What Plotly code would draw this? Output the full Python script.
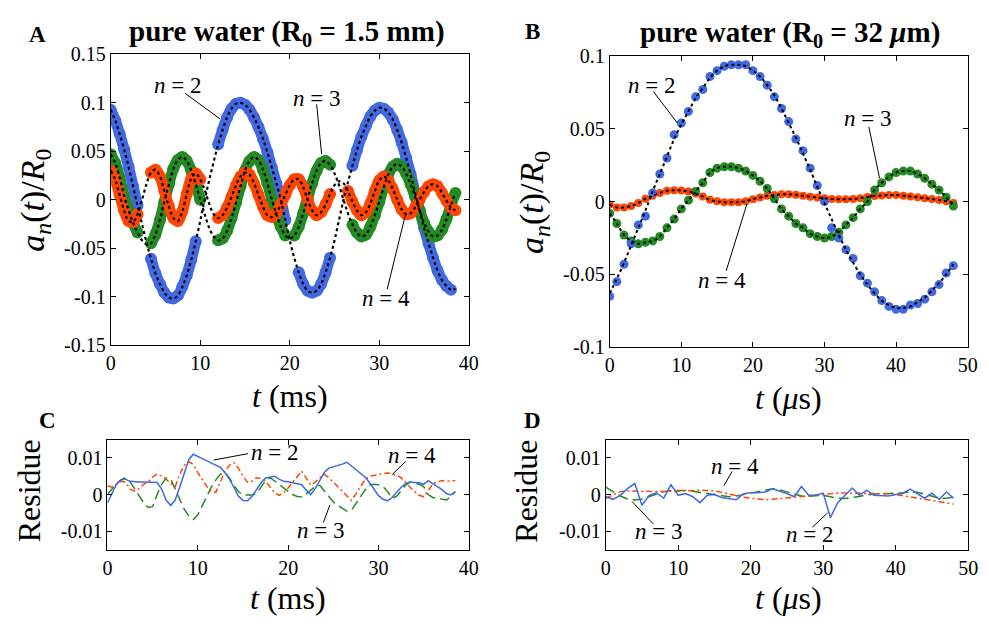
import plotly.graph_objects as go

# ---------------- data ----------------
T_A = [0, 0.5, 1, 1.5, 2, 2.5, 3, 3.5, 4, 4.5, 5, 5.5, 6, 6.5, 7, 7.5, 8, 8.5, 9, 9.5,
       10, 10.5, 11, 11.5, 12, 12.5, 13, 13.5, 14, 14.5, 15, 15.5, 16, 16.5, 17, 17.5, 18, 18.5, 19, 19.5,
       20, 20.5, 21, 21.5, 22, 22.5, 23, 23.5, 24, 24.5, 25, 25.5, 26, 26.5, 27, 27.5, 28, 28.5, 29, 29.5,
       30, 30.5, 31, 31.5, 32, 32.5, 33, 33.5, 34, 34.5, 35, 35.5, 36, 36.5, 37, 37.5, 38, 38.5]

A_N2 = [0.093, 0.082, 0.068, 0.052, 0.034, 0.014, -0.006, -0.025, -0.044, -0.061,
        -0.076, -0.087, -0.096, -0.101, -0.102, -0.099, -0.090, -0.078, -0.062, -0.043,
        -0.022, 0.000, 0.020, 0.039, 0.057, 0.072, 0.085, 0.094, 0.099, 0.100,
        0.098, 0.093, 0.085, 0.075, 0.063, 0.049, 0.033, 0.017, 0.000, -0.021,
        -0.042, -0.060, -0.075, -0.087, -0.094, -0.096, -0.094, -0.087, -0.075, -0.060,
        -0.042, -0.021, 0.000, 0.018, 0.035, 0.051, 0.065, 0.076, 0.086, 0.092,
        0.095, 0.094, 0.090, 0.083, 0.072, 0.059, 0.043, 0.026, 0.007, -0.011,
        -0.029, -0.045, -0.060, -0.073, -0.083, -0.089, -0.093, -0.092]
A_N3 = [0.047, 0.038, 0.023, 0.004, -0.011, -0.024, -0.034, -0.042, -0.046, -0.045,
        -0.036, -0.021, -0.002, 0.016, 0.032, 0.041, 0.044, 0.040, 0.030, 0.016,
        0.000, -0.015, -0.029, -0.038, -0.042, -0.040, -0.032, -0.019, -0.003, 0.014,
        0.030, 0.040, 0.044, 0.041, 0.031, 0.017, 0.000, -0.015, -0.028, -0.037,
        -0.040, -0.037, -0.028, -0.014, 0.002, 0.017, 0.030, 0.038, 0.040, 0.036,
        0.027, 0.015, 0.000, -0.014, -0.026, -0.034, -0.038, -0.036, -0.028, -0.016,
        -0.002, 0.013, 0.026, 0.034, 0.037, 0.034, 0.027, 0.016, 0.003, -0.011,
        -0.024, -0.033, -0.038, -0.037, -0.031, -0.020, -0.006, 0.007]
A_N4 = [0.030, 0.021, 0.005, -0.011, -0.022, -0.023, -0.015, 0.000, 0.016, 0.028,
        0.031, 0.024, 0.009, -0.007, -0.019, -0.022, -0.012, 0.006, 0.022, 0.027,
        0.021, 0.010, -0.004, -0.015, -0.019, -0.016, -0.008, 0.003, 0.015, 0.024,
        0.028, 0.026, 0.017, 0.005, -0.007, -0.016, -0.018, -0.014, -0.005, 0.005,
        0.015, 0.021, 0.021, 0.013, 0.000, -0.011, -0.016, -0.013, -0.005, 0.006,
        0.015, 0.019, 0.017, 0.009, -0.002, -0.011, -0.016, -0.013, -0.004, 0.009,
        0.020, 0.024, 0.020, 0.011, 0.000, -0.010, -0.015, -0.014, -0.008, 0.000,
        0.008, 0.014, 0.016, 0.014, 0.007, -0.001, -0.008, -0.011]
# time windows (ms) in which the measured points of panel A are present
A_SEG_N2 = [(0, 3.0), (4.5, 9.5), (12, 19.5), (21, 24.5), (27, 38)]
A_SEG_N3 = [(0, 3.0), (4.5, 10), (12, 19.5), (20.5, 24.5), (27, 38.5)]
A_SEG_N4 = [(0, 3.0), (4.5, 10), (12, 19.5), (20, 24.5), (26.5, 38.5)]

T_B = list(range(49))
B_N2 = [-0.065, -0.055, -0.043, -0.029, -0.016, -0.010, 0.006, 0.019, 0.030, 0.046,
        0.054, 0.062, 0.072, 0.077, 0.086, 0.090, 0.093, 0.094, 0.094, 0.094,
        0.090, 0.086, 0.080, 0.072, 0.064, 0.055, 0.043, 0.035, 0.023, 0.011,
        0.000, -0.018, -0.025, -0.033, -0.039, -0.051, -0.056, -0.062, -0.068, -0.072,
        -0.074, -0.074, -0.071, -0.070, -0.067, -0.062, -0.057, -0.049, -0.044]
B_N2_FIT = [-0.063, -0.053, -0.042, -0.030, -0.018, -0.006, 0.007, 0.019, 0.031, 0.043,
            0.053, 0.062, 0.071, 0.078, 0.085, 0.090, 0.093, 0.094, 0.094, 0.093,
            0.090, 0.086, 0.080, 0.073, 0.064, 0.054, 0.044, 0.033, 0.022, 0.010,
            -0.001, -0.012, -0.023, -0.033, -0.042, -0.050, -0.057, -0.063, -0.068, -0.071,
            -0.073, -0.073, -0.072, -0.069, -0.066, -0.061, -0.056, -0.050, -0.043]
B_N3 = [-0.008, -0.015, -0.023, -0.027, -0.029, -0.028, -0.027, -0.024, -0.018, -0.012,
        -0.005, 0.001, 0.007, 0.013, 0.020, 0.023, 0.024, 0.024, 0.023, 0.021,
        0.018, 0.014, 0.009, 0.002, -0.005, -0.010, -0.015, -0.018, -0.022, -0.024,
        -0.025, -0.024, -0.021, -0.016, -0.011, -0.005, 0.000, 0.008, 0.013, 0.017,
        0.020, 0.021, 0.021, 0.019, 0.016, 0.012, 0.008, 0.003, -0.003]
B_N4 = [-0.002, -0.004, -0.004, -0.003, -0.001, 0.002, 0.004, 0.006, 0.0075, 0.0078,
        0.0077, 0.007, 0.0055, 0.0035, 0.0012, 0.0002, -0.0005, -0.0005, -0.0004, 0.0003,
        0.0017, 0.0028, 0.004, 0.0046, 0.005, 0.005, 0.0047, 0.004, 0.0034, 0.0028,
        0.0024, 0.0018, 0.0017, 0.0017, 0.0018, 0.0024, 0.0032, 0.0039, 0.0042, 0.0045,
        0.0045, 0.004, 0.0036, 0.003, 0.0024, 0.0018, 0.0011, 0.0003, -0.001]

# residues, in units of 1e-3
T_C = T_A
C_N2 = [-2.3, 0.5, 2.8, 4.0, 4.2, 3.6, 3.4, 3.4, 3.4, 3.4,
        3.2, 3.3, 1.5, -1.5, -3.0, -1.5, 2.0, 6.0, 9.5, 11.0,
        10.5, 9.8, 9.2, 8.6, 8.1, 7.4, 6.0, 4.2, 2.0, -0.5,
        -1.6, -1.7, -0.5, 1.5, 3.2, 4.5, 4.8, 5.0, 4.2, 3.6,
        3.5, 3.3, 3.0, 2.7, 1.2, 0.0, 1.6, 3.8, 6.0, 7.2,
        7.5, 7.9, 8.3, 8.8, 7.8, 6.7, 5.6, 4.8, 3.3, 1.5,
        -0.3, -1.3, -1.7, -0.8, 0.5, 2.0, 3.0, 3.4, 3.3, 3.2,
        2.8, 3.8, 3.0, 2.2, 1.4, 0.3, -0.1, 0.8]
C_N3 = [0.0, 1.5, 3.0, 4.0, 4.6, 3.5, 1.5, -0.5, -2.2, -3.5,
        -3.3, 0.0, 2.8, 4.5, 4.2, 1.5, -1.5, -4.0, -5.8, -6.8,
        -5.5, -3.0, -0.5, 2.0, 4.0, 5.5, 6.0, 4.5, 2.5, 0.8,
        -0.1, -0.2, -0.1, 0.3, 2.0, 3.8, 4.6, 3.8, 2.8, 1.8,
        0.8, 0.0, -0.5, -0.6, 0.2, 1.2, 2.2, 2.5, 1.0, -0.8,
        -2.0, -3.0, -3.8, -4.5, -4.3, -2.5, -0.5, 1.2, 2.6, 2.8,
        2.7, 2.2, 0.8, -1.0, -0.5, 1.2, 2.6, 3.4, 3.2, 2.8,
        2.2, 0.0, -0.8, -1.0, -1.3, -1.5, -0.6, 0.8]
C_N4 = [2.4, 2.0, 2.8, 3.6, 3.4, 1.5, 0.9, 1.6, 2.8, 3.4,
        4.8, 5.6, 5.0, 4.2, 3.0, 2.2, 5.5, 8.0, 9.0, 8.2,
        6.0, 4.0, 2.2, 0.8, 0.6, 3.5, 6.3, 8.0, 8.7, 7.2,
        5.0, 3.4, 3.6, 4.6, 4.4, 3.6, 2.0, 0.5, -0.2, 0.5,
        1.8, 3.3, 5.0, 6.4, 4.5, 2.6, 3.4, 4.6, 5.5, 4.6,
        3.4, 2.2, 1.0, -0.2, -1.6, 0.2, 2.2, 4.0, 5.0, 5.3,
        5.5, 5.7, 5.9, 5.6, 5.3, 4.6, 3.2, 2.0, 0.8, -0.2,
        -0.6, 1.0, 3.0, 3.4, 3.8, 3.6, 3.8, 3.8]

T_D = T_B
D_N2 = [-0.6, -1.3, -0.2, 1.6, 3.0, -2.9, -0.2, 0.5, -1.0, 2.7,
        -0.2, 0.3, -0.6, -2.2, -0.2, 0.0, -0.8, -1.0, -1.4, 0.2,
        0.5, 0.5, 0.7, 1.6, 1.0, 0.3, -0.6, 2.2, -0.2, -0.2,
        0.4, -6.3, -2.2, -0.2, 1.8, -0.2, 1.2, -0.2, -0.2, -0.4,
        0.0, 0.3, 1.5, 0.3, -1.0, 0.4, -1.3, 0.7, -1.0]
D_N3 = [2.0, 0.8, -0.4, -1.2, -1.5, -1.2, -0.5, 0.3, 0.8, 1.1,
        1.2, 1.1, 0.9, 0.6, 0.2, -0.2, -0.5, -0.6, -0.4, 0.0,
        0.5, 1.0, 1.4, 1.6, 1.3, 0.8, 0.1, -0.4, -0.5, -0.3,
        -0.2, -0.6, -1.0, -1.1, -0.9, -0.5, -0.1, 0.2, 0.3, 0.3,
        0.3, 0.5, 0.7, 0.6, 0.1, -0.5, -1.0, -1.0, -0.7]
D_N4 = [-1.0, 0.0, 0.8, 1.0, 0.9, 0.8, 0.8, 0.8, 0.8, 0.9,
        1.0, 1.1, 1.3, 1.2, 1.1, 1.0, 0.6, 0.1, -0.3, -0.7,
        -1.0, -1.3, -1.4, -1.3, -1.1, -0.9, -0.7, -0.5, -0.3, -0.1,
        0.1, 0.3, 0.4, 0.4, 0.4, 0.4, 0.4, 0.3, 0.3, 0.2,
        0.0, -0.3, -0.6, -0.9, -1.2, -1.5, -1.9, -2.3, -2.6]

A_YTICKS = [-0.15, -0.1, -0.05, 0, 0.05, 0.1, 0.15]
A_YTEXT = ["-0.15", "-0.1", "-0.05", "0", "0.05", "0.1", "0.15"]
B_YTICKS = [-0.1, -0.05, 0, 0.05, 0.1]
B_YTEXT = ["-0.1", "-0.05", "0", "0.05", "0.1"]
R_YTICKS = [-10, 0, 10]
R_YTEXT = ["-0.01", "0", "0.01"]

# ---------------- styling ----------------
BLUE = "#4169E1"
GREEN = "#228B22"
ORANGE = "#FF4500"
FONT = "Liberation Serif, Times New Roman, serif"
W, H = 989, 632

fig = go.Figure()


def in_segs(t, segs):
    return any(a <= t <= b for a, b in segs)


# Panel A: measured bands
for fit, segs, col in [(A_N2, A_SEG_N2, BLUE), (A_N3, A_SEG_N3, GREEN), (A_N4, A_SEG_N4, ORANGE)]:
    ys = [v if in_segs(t, segs) else None for t, v in zip(T_A, fit)]
    fig.add_trace(go.Scatter(x=T_A, y=ys, mode="lines+markers", connectgaps=False,
                             line=dict(color=col, width=11, shape="spline"),
                             marker=dict(color=col, size=12),
                             xaxis="x", yaxis="y", hoverinfo="skip"))
for fit in [A_N2, A_N3, A_N4]:
    fig.add_trace(go.Scatter(x=T_A, y=fit, mode="lines",
                             line=dict(color="black", width=2.2, dash="dot", shape="spline"),
                             xaxis="x", yaxis="y", hoverinfo="skip"))

# Panel B
for ys, col, sz in [(B_N4, ORANGE, 8), (B_N3, GREEN, 9), (B_N2, BLUE, 9)]:
    fig.add_trace(go.Scatter(x=T_B, y=ys, mode="markers", marker=dict(color=col, size=sz),
                             xaxis="x2", yaxis="y2", hoverinfo="skip"))
for ys in [B_N2_FIT, B_N3, B_N4]:
    fig.add_trace(go.Scatter(x=T_B, y=ys, mode="lines",
                             line=dict(color="black", width=2, dash="dot", shape="spline"),
                             xaxis="x2", yaxis="y2", hoverinfo="skip"))

# Panels C and D
SOLID, DASH, DASHDOT = "solid", "10px,5px", "6px,3px,2px,3px"
for ys, col, dash in [(C_N3, GREEN, DASH), (C_N4, ORANGE, DASHDOT), (C_N2, BLUE, SOLID)]:
    fig.add_trace(go.Scatter(x=T_C, y=ys, mode="lines", line=dict(color=col, width=1.5, dash=dash),
                             xaxis="x3", yaxis="y3", hoverinfo="skip"))
for ys, col, dash in [(D_N3, GREEN, DASH), (D_N4, ORANGE, DASHDOT), (D_N2, BLUE, SOLID)]:
    fig.add_trace(go.Scatter(x=T_D, y=ys, mode="lines", line=dict(color=col, width=1.5, dash=dash),
                             xaxis="x4", yaxis="y4", hoverinfo="skip"))


def px_x(p):
    return p / W


def px_y(p):
    return 1 - p / H


def axis(dom, rng, anchor, tickvals=None, ticktext=None, dtick=None):
    d = dict(domain=dom, range=rng, anchor=anchor, showline=True, linecolor="black", linewidth=1,
             mirror="ticks", ticks="inside", ticklen=5, tickcolor="black", showgrid=False,
             zeroline=False, tickfont=dict(family=FONT, size=20, color="black"))
    if tickvals is not None:
        d.update(tickmode="array", tickvals=tickvals, ticktext=ticktext)
    if dtick is not None:
        d.update(tick0=0, dtick=dtick)
    return d


layout = dict(
    width=W, height=H, margin=dict(l=0, r=0, t=0, b=0),
    paper_bgcolor="white", plot_bgcolor="white", showlegend=False,
    font=dict(family=FONT, color="black"),
    xaxis=axis([px_x(107.3), px_x(471)], [0, 40], "y", dtick=10),
    yaxis=axis([px_y(346), px_y(45)], [-0.15, 0.15], "x", A_YTICKS, A_YTEXT),
    xaxis2=axis([px_x(614), px_x(977.5)], [0, 50], "y2", dtick=10),
    yaxis2=axis([px_y(348.3), px_y(46.7)], [-0.1, 0.1], "x2", B_YTICKS, B_YTEXT),
    xaxis3=axis([px_x(104), px_x(471)], [0, 40], "y3", dtick=10),
    yaxis3=axis([px_y(558), px_y(444)], [-15, 15], "x3", R_YTICKS, R_YTEXT),
    xaxis4=axis([px_x(610), px_x(978)], [0, 50], "y4", dtick=10),
    yaxis4=axis([px_y(558), px_y(444)], [-15, 15], "x4", R_YTICKS, R_YTEXT),
)
fig.update_layout(**layout)

ann = []


def paper_text(x, y, text, size, angle=0):
    ann.append(dict(x=px_x(x), y=px_y(y), xref="paper", yref="paper", text=text, showarrow=False,
                    textangle=angle, xanchor="center", yanchor="middle",
                    font=dict(family=FONT, size=size, color="black")))


paper_text(33, 24, "<b>A</b>", 23)
paper_text(536, 21, "<b>B</b>", 23)
paper_text(43, 424, "<b>C</b>", 23)
paper_text(536, 424, "<b>D</b>", 23)
paper_text(286, 23, "<b>pure water (R<sub>0</sub> = 1.5 mm)</b>", 29)
paper_text(797, 24, "<b>pure water (R<sub>0</sub> = 32 <i>μ</i>m)</b>", 29)
ylab = "<i>a<sub>n</sub></i>(<i>t</i>)/<i>R</i><sub>0</sub>"
paper_text(31, 196, ylab, 34, -90)
paper_text(537, 198, ylab, 34, -90)
paper_text(24, 497, "Residue", 32, -90)
paper_text(529, 497, "Residue", 32, -90)
paper_text(289, 399, "<i>t</i> (ms)", 32)
paper_text(796, 401, "<i>t</i> (<i>μ</i>s)", 32)
paper_text(287, 608, "<i>t</i> (ms)", 32)
paper_text(796, 608, "<i>t</i> (<i>μ</i>s)", 32)

labels = [
    # (xref, yref, text pos, line start, line end, text)
    ("x", "y", (7.44, 0.118), (8.29, 0.110), (12.2, 0.0835), "2"),
    ("x", "y", (23.0, 0.105), (23.0, 0.0985), (23.56, 0.047), "3"),
    ("x", "y", (30.7, -0.1025), (30.88, -0.0925), (32.9, -0.016), "4"),
    ("x2", "y2", (5.87, 0.080), (6.09, 0.0757), (9.45, 0.054), "2"),
    ("x2", "y2", (36.0, 0.0569), (36.2, 0.0514), (37.7, 0.016), "3"),
    ("x2", "y2", (15.7, -0.0542), (16.27, -0.0476), (19.16, -0.0017), "4"),
    ("x3", "y3", (18.45, 11.6), (15.55, 11.15), (11.74, 9.4), "2"),
    ("x3", "y3", (33.7, 10.7), (33.0, 9.0), (31.53, 5.5), "4"),
    ("x3", "y3", (23.54, -9.7), (23.9, -7.6), (24.63, -2.8), "3"),
    ("x4", "y4", (17.9, 7.65), (17.43, 6.3), (16.3, 2.4), "4"),
    ("x4", "y4", (7.24, -10.2), (6.56, -8.0), (3.63, -1.9), "3"),
    ("x4", "y4", (28.1, -11.0), (28.5, -8.9), (30.6, -5.0), "2"),
]
shapes = []
for xr, yr, tp, p0, p1, n in labels:
    ann.append(dict(x=tp[0], y=tp[1], xref=xr, yref=yr, text="<i>n</i> = " + n, showarrow=False,
                    xanchor="center", yanchor="middle",
                    font=dict(family=FONT, size=23, color="black")))
    shapes.append(dict(type="line", xref=xr, yref=yr, x0=p0[0], y0=p0[1], x1=p1[0], y1=p1[1],
                       line=dict(color="black", width=1)))

fig.update_layout(annotations=ann, shapes=shapes)
fig.write_html("out.html")
